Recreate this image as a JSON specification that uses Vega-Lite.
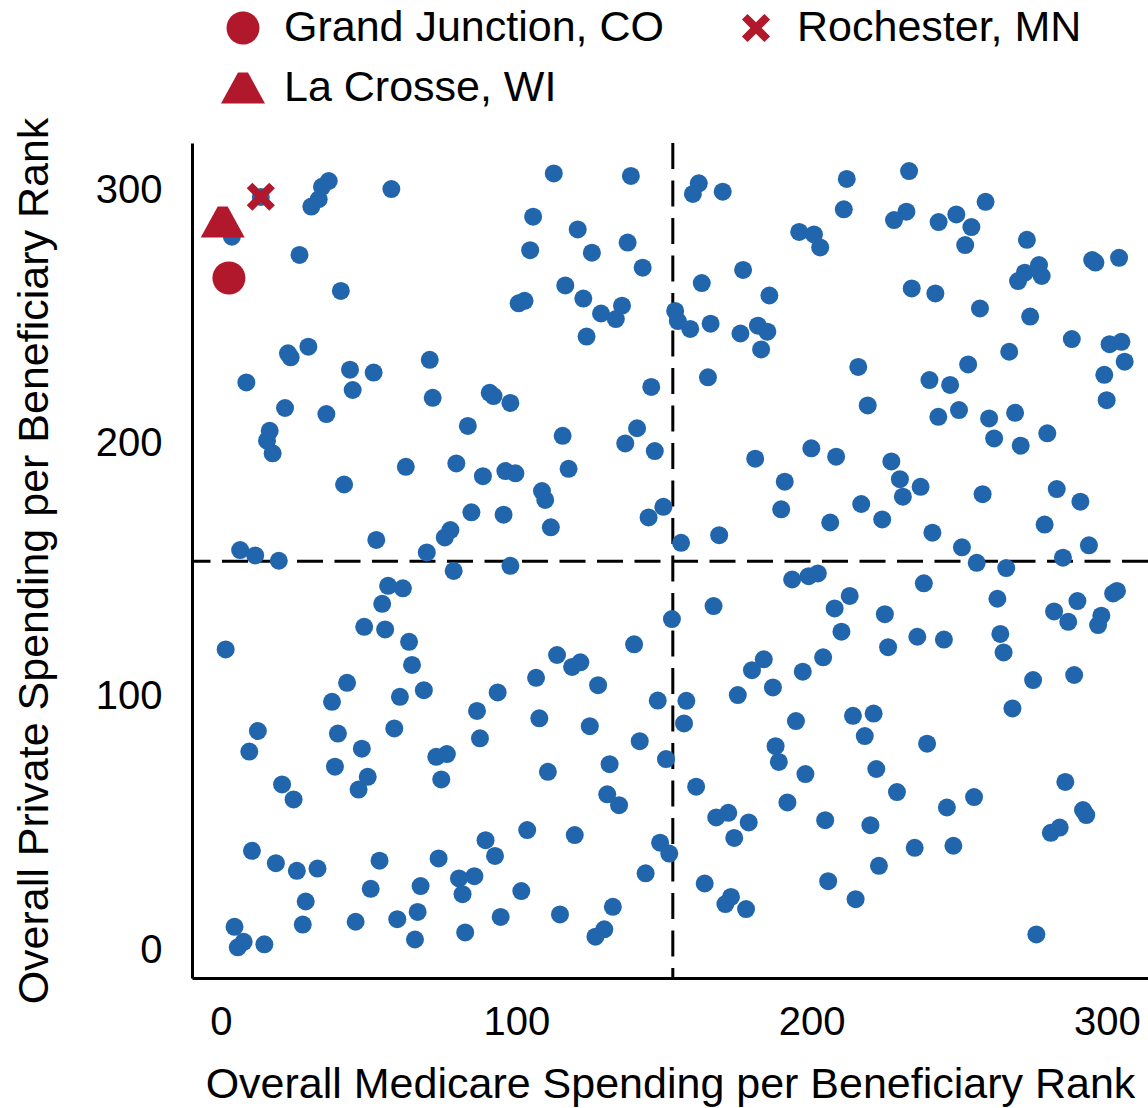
{
  "$schema": "https://vega.github.io/schema/vega-lite/v6.json",
  "width": 956,
  "height": 835,
  "autosize": {"type": "none"},
  "padding": {"left": 192, "top": 143, "right": 0, "bottom": 130},
  "background": "white",
  "config": {"view": {"stroke": null}, "font": "Liberation Sans"},
  "datasets": {
    "hrr": [
      {"medicare":3.7,"private":281.6},{"medicare":13.5,"private":297.3},{"medicare":36.5,"private":303.6},{"medicare":34.2,"private":301.3},{"medicare":33.1,"private":296.4},{"medicare":30.6,"private":293.5},{"medicare":57.7,"private":300.4},{"medicare":26.6,"private":274.4},{"medicare":40.6,"private":260.2},{"medicare":22.7,"private":235.6},{"medicare":23.6,"private":234},{"medicare":29.6,"private":238.2},{"medicare":8.6,"private":224.1},{"medicare":43.7,"private":229.1},{"medicare":51.7,"private":228},{"medicare":44.6,"private":221.1},{"medicare":70.7,"private":233},{"medicare":71.7,"private":218},{"medicare":21.7,"private":214},{"medicare":35.7,"private":211.6},{"medicare":91,"private":220},{"medicare":92.3,"private":218.7},{"medicare":98,"private":216},{"medicare":83.6,"private":206.9},
      {"medicare":112.7,"private":306.6},{"medicare":138.8,"private":305.6},{"medicare":161.8,"private":302.7},{"medicare":159.8,"private":298.5},{"medicare":169.9,"private":299.4},{"medicare":105.7,"private":289.5},{"medicare":120.8,"private":284.5},{"medicare":104.7,"private":276.3},{"medicare":137.7,"private":279.3},{"medicare":125.6,"private":275.3},{"medicare":142.8,"private":269.4},{"medicare":195.8,"private":283.5},{"medicare":200.8,"private":282.5},{"medicare":202.9,"private":277.4},{"medicare":176.8,"private":268.5},{"medicare":162.8,"private":263.3},{"medicare":185.7,"private":258.4},{"medicare":116.6,"private":262.4},{"medicare":122.7,"private":257.2},{"medicare":100.8,"private":255.3},{"medicare":102.8,"private":256.3},{"medicare":135.8,"private":254.4},{"medicare":128.7,"private":251.3},{"medicare":133.7,"private":249.1},{"medicare":153.8,"private":252.3},{"medicare":154.7,"private":248.3},{"medicare":158.9,"private":245.2},{"medicare":165.8,"private":247.3},{"medicare":175.9,"private":243.4},{"medicare":181.8,"private":246.5},{"medicare":185,"private":244.1},{"medicare":182.9,"private":237.1},{"medicare":123.8,"private":242.2},{"medicare":164.9,"private":226.1},{"medicare":145.7,"private":222.3},
      {"medicare":211.9,"private":304.4},{"medicare":233,"private":307.5},{"medicare":210.9,"private":292.4},{"medicare":232.1,"private":291.5},{"medicare":227.9,"private":288.2},{"medicare":243,"private":287.4},{"medicare":249,"private":290.4},{"medicare":258.9,"private":295.4},{"medicare":254.1,"private":285.4},{"medicare":252,"private":278.3},{"medicare":272.9,"private":280.4},{"medicare":295,"private":272.4},{"medicare":296.1,"private":271.4},{"medicare":304.1,"private":273.3},{"medicare":277,"private":270.4},{"medicare":272.2,"private":267.4},{"medicare":277.9,"private":266.1},{"medicare":269.9,"private":264.1},{"medicare":233.9,"private":261.2},{"medicare":241.9,"private":259.2},{"medicare":257,"private":253.3},{"medicare":274,"private":250.1},{"medicare":288.1,"private":241.2},{"medicare":300.9,"private":239.2},{"medicare":304.9,"private":240.1},{"medicare":306,"private":232.3},{"medicare":299.1,"private":227.1},{"medicare":299.9,"private":217.1},{"medicare":266.9,"private":236.2},{"medicare":215.8,"private":230.2},{"medicare":253,"private":231.2},{"medicare":239.9,"private":225},{"medicare":246.9,"private":223.1},{"medicare":219,"private":215},{"medicare":242.9,"private":210.5},{"medicare":249.9,"private":213.2},{"medicare":260.1,"private":209.9},{"medicare":268.9,"private":212.1},
      {"medicare":16.5,"private":205},{"medicare":15.6,"private":201.1},{"medicare":17.5,"private":196.1},{"medicare":62.6,"private":190.8},{"medicare":79.7,"private":192.1},{"medicare":88.7,"private":187.1},{"medicare":96.3,"private":189.1},{"medicare":41.7,"private":183.8},{"medicare":84.8,"private":172.8},{"medicare":95.7,"private":171.9},{"medicare":52.6,"private":161.9},{"medicare":77.7,"private":165.8},{"medicare":75.8,"private":162.9},{"medicare":69.7,"private":157},{"medicare":6.5,"private":157.9},{"medicare":11.6,"private":155.8},{"medicare":19.6,"private":153.7},{"medicare":78.8,"private":149.7},{"medicare":98,"private":151.7},{"medicare":56.6,"private":143.8},{"medicare":61.6,"private":142.8},{"medicare":54.6,"private":136.7},{"medicare":48.5,"private":127.6},{"medicare":55.6,"private":126.6},{"medicare":63.7,"private":121.7},{"medicare":1.6,"private":118.7},{"medicare":64.7,"private":112.6},{"medicare":42.7,"private":105.5},{"medicare":68.7,"private":102.6},{"medicare":93.7,"private":101.7},{"medicare":60.6,"private":100},{"medicare":37.6,"private":98},
      {"medicare":115.7,"private":203},{"medicare":140.9,"private":206},{"medicare":136.9,"private":200},{"medicare":146.9,"private":197},{"medicare":99.7,"private":188.2},{"medicare":117.7,"private":190},{"medicare":108.7,"private":181.2},{"medicare":109.8,"private":177.7},{"medicare":111.7,"private":166.9},{"medicare":149.8,"private":175},{"medicare":144.8,"private":170.8},{"medicare":155.8,"private":160.8},{"medicare":168.7,"private":163.8},{"medicare":180.9,"private":194},{"medicare":199.9,"private":198.1},{"medicare":208.3,"private":194.8},{"medicare":190.9,"private":184.9},{"medicare":189.7,"private":174},{"medicare":206.3,"private":168.8},{"medicare":193.4,"private":146.3},{"medicare":199,"private":147.6},{"medicare":202.1,"private":148.7},{"medicare":166.8,"private":135.8},{"medicare":207.8,"private":134.9},{"medicare":152.7,"private":130.7},{"medicare":139.9,"private":120.7},{"medicare":113.8,"private":116.5},{"medicare":118.9,"private":111.8},{"medicare":121.7,"private":113.6},{"medicare":106.7,"private":107.5},{"medicare":127.7,"private":104.6},{"medicare":147.9,"private":98.5},{"medicare":157.6,"private":98.4},{"medicare":175,"private":100.7},{"medicare":183.8,"private":114.8},{"medicare":179.8,"private":110.5},{"medicare":186.9,"private":103.7},{"medicare":197,"private":109.9},{"medicare":203.9,"private":115.6},
      {"medicare":261.8,"private":202},{"medicare":270.8,"private":199.1},{"medicare":279.8,"private":204},{"medicare":227,"private":192.9},{"medicare":229.9,"private":185.9},{"medicare":230.9,"private":179},{"medicare":236.9,"private":182.9},{"medicare":216.8,"private":176.1},{"medicare":223.9,"private":170},{"medicare":257.9,"private":180},{"medicare":283,"private":182},{"medicare":291,"private":177},{"medicare":278.9,"private":168},{"medicare":240.9,"private":164.8},{"medicare":250.9,"private":159},{"medicare":255.9,"private":152.9},{"medicare":265.9,"private":150.8},{"medicare":285.1,"private":154.9},{"medicare":293.9,"private":159.8},{"medicare":238,"private":144.8},{"medicare":212.9,"private":139.8},{"medicare":224.8,"private":132.6},{"medicare":210.1,"private":125.7},{"medicare":262.9,"private":138.7},{"medicare":263.9,"private":124.8},{"medicare":265,"private":117.5},{"medicare":235.8,"private":123.7},{"medicare":244.8,"private":122.6},{"medicare":225.9,"private":119.6},{"medicare":282.1,"private":133.7},{"medicare":286.9,"private":129.6},{"medicare":290,"private":137.8},{"medicare":297,"private":128.3},{"medicare":298.1,"private":132},{"medicare":302.1,"private":140.8},{"medicare":303.4,"private":141.8},{"medicare":275,"private":106.6},{"medicare":288.9,"private":108.6},
      {"medicare":86.7,"private":94.4},{"medicare":12.5,"private":86.5},{"medicare":9.6,"private":78.4},{"medicare":39.6,"private":85.5},{"medicare":58.7,"private":87.5},{"medicare":47.7,"private":79.5},{"medicare":38.6,"private":72.4},{"medicare":49.7,"private":68.4},{"medicare":46.6,"private":63.4},{"medicare":72.9,"private":76.3},{"medicare":76.5,"private":77.4},{"medicare":74.6,"private":67.4},{"medicare":87.7,"private":83.6},{"medicare":20.7,"private":65.4},{"medicare":24.6,"private":59.5},{"medicare":10.5,"private":39.2},{"medicare":18.6,"private":34.3},{"medicare":25.7,"private":31.3},{"medicare":32.7,"private":32.2},{"medicare":28.7,"private":19.2},{"medicare":27.7,"private":10.1},{"medicare":4.6,"private":9.2},{"medicare":7.7,"private":3.3},{"medicare":5.7,"private":1.1},{"medicare":14.7,"private":2.3},{"medicare":53.7,"private":35.3},{"medicare":50.7,"private":24.2},{"medicare":45.6,"private":11.2},{"medicare":67.6,"private":25.3},{"medicare":66.6,"private":15.1},{"medicare":59.7,"private":12.2},{"medicare":65.7,"private":4.2},{"medicare":73.7,"private":36.2},{"medicare":89.6,"private":43.4},{"medicare":92.8,"private":37.2},{"medicare":80.6,"private":28.3},{"medicare":85.8,"private":29.2},{"medicare":81.8,"private":22.1},{"medicare":94.7,"private":13.1},{"medicare":82.7,"private":7},
      {"medicare":107.8,"private":91.5},{"medicare":124.9,"private":88.4},{"medicare":141.8,"private":82.5},{"medicare":156.8,"private":89.5},{"medicare":194.7,"private":90.4},{"medicare":110.7,"private":70.4},{"medicare":131.6,"private":73.4},{"medicare":150.7,"private":75.4},{"medicare":187.8,"private":80.5},{"medicare":188.9,"private":74.3},{"medicare":197.9,"private":69.5},{"medicare":130.8,"private":61.5},{"medicare":134.8,"private":57.2},{"medicare":160.9,"private":64.5},{"medicare":191.8,"private":58.3},{"medicare":167.7,"private":52.4},{"medicare":171.8,"private":54.2},{"medicare":178.7,"private":50.4},{"medicare":173.8,"private":44.3},{"medicare":204.6,"private":51.3},{"medicare":103.7,"private":47.4},{"medicare":119.8,"private":45.4},{"medicare":148.7,"private":42.4},{"medicare":151.8,"private":38.1},{"medicare":143.8,"private":30.3},{"medicare":163.8,"private":26.3},{"medicare":172.7,"private":21},{"medicare":170.8,"private":18.2},{"medicare":177.8,"private":16.2},{"medicare":205.6,"private":27.2},{"medicare":101.7,"private":23.3},{"medicare":114.8,"private":14.1},{"medicare":132.7,"private":17.1},{"medicare":129.8,"private":8.2},{"medicare":126.8,"private":5.3},
      {"medicare":268,"private":95.4},{"medicare":214,"private":92.5},{"medicare":221,"private":93.4},{"medicare":218,"private":84.5},{"medicare":239.1,"private":81.5},{"medicare":221.9,"private":71.5},{"medicare":228.9,"private":62.4},{"medicare":245.8,"private":56.3},{"medicare":255,"private":60.4},{"medicare":219.9,"private":49.3},{"medicare":234.9,"private":40.4},{"medicare":248,"private":41.2},{"medicare":222.8,"private":33.3},{"medicare":214.9,"private":20.1},{"medicare":285.9,"private":66.4},{"medicare":291.9,"private":55.3},{"medicare":293,"private":53.3},{"medicare":284,"private":48.4},{"medicare":281,"private":46.3},{"medicare":276.1,"private":6.2}
    ],
    "highlight": [
      {"hrr": "Grand Junction, CO", "medicare": 2.7, "private": 265.3},
      {"hrr": "Rochester, MN", "medicare": 13.5, "private": 297.4},
      {"hrr": "La Crosse, WI", "medicare": 0.6, "private": 287.4}
    ]
  },
  "layer": [
    {
      "data": {"values": [{}]},
      "mark": {"type": "rule", "color": "black", "strokeWidth": 3, "strokeDash": [26, 11.5]},
      "encoding": {
        "x": {"datum": 153, "type": "quantitative", "title": "Overall Medicare Spending per Beneficiary Rank", "scale": {"domain": [-9.8, 313.9], "nice": false, "zero": false}}
      }
    },
    {
      "data": {"values": [{}]},
      "mark": {"type": "rule", "color": "black", "strokeWidth": 3, "strokeDash": [26, 11.5]},
      "encoding": {
        "y": {"datum": 153.5, "type": "quantitative", "title": "Overall Private Spending per Beneficiary Rank", "scale": {"domain": [-11, 318.6], "nice": false, "zero": false}}
      }
    },
    {
      "data": {"name": "hrr"},
      "mark": {"type": "circle", "size": 324, "color": "#2166ac", "opacity": 1},
      "encoding": {
        "x": {
          "field": "medicare", "type": "quantitative",
          "title": "Overall Medicare Spending per Beneficiary Rank",
          "scale": {"domain": [-9.8, 313.9], "nice": false, "zero": false},
          "axis": {"values": [0, 100, 200, 300], "domainColor": "black", "domainWidth": 3, "ticks": false, "tickSize": 0, "grid": false, "labelFlush": false, "labelFontSize": 40, "labelColor": "black", "labelPadding": 24, "titleFontSize": 43, "titleFontWeight": "normal", "titleColor": "black", "titleY": 119, "titleBaseline": "alphabetic"}
        },
        "y": {
          "field": "private", "type": "quantitative",
          "title": "Overall Private Spending per Beneficiary Rank",
          "scale": {"domain": [-11, 318.6], "nice": false, "zero": false},
          "axis": {"values": [0, 100, 200, 300], "domainColor": "black", "domainWidth": 3, "ticks": false, "tickSize": 0, "grid": false, "labelFlush": false, "labelFontSize": 40, "labelColor": "black", "labelPadding": 30, "titleFontSize": 43, "titleFontWeight": "normal", "titleColor": "black", "titleX": -145, "titleAngle": 270, "titleBaseline": "alphabetic"}
        }
      }
    },
    {
      "data": {"name": "highlight"},
      "mark": {"type": "point", "filled": true, "size": 1936, "color": "#b2182b", "opacity": 1, "strokeWidth": 0},
      "encoding": {
        "x": {"field": "medicare", "type": "quantitative", "title": "Overall Medicare Spending per Beneficiary Rank", "scale": {"domain": [-9.8, 313.9], "nice": false, "zero": false}},
        "y": {"field": "private", "type": "quantitative", "title": "Overall Private Spending per Beneficiary Rank", "scale": {"domain": [-11, 318.6], "nice": false, "zero": false}},
        "shape": {
          "field": "hrr", "type": "nominal",
          "scale": {
            "domain": ["Grand Junction, CO", "La Crosse, WI", "Rochester, MN"],
            "range": [
              "M0.75,0C0.75,0.414,0.414,0.75,0,0.75C-0.414,0.75,-0.75,0.414,-0.75,0C-0.75,-0.414,-0.414,-0.75,0,-0.75C0.414,-0.75,0.75,-0.414,0.75,0Z",
              "M-1,0.705L1,0.705L0.227,-0.705L-0.227,-0.705Z",
              "M-0.64,-0.384L-0.384,-0.64L0,-0.256L0.384,-0.64L0.64,-0.384L0.256,0L0.64,0.384L0.384,0.64L0,0.256L-0.384,0.64L-0.64,0.384L-0.256,0Z"
            ]
          },
          "legend": {"title": null, "orient": "none", "legendX": 29, "legendY": -137, "columns": 2, "columnPadding": 69, "rowPadding": 16, "padding": 0, "symbolSize": 1936, "symbolFillColor": "#b2182b", "symbolStrokeColor": "#b2182b", "symbolStrokeWidth": 0, "symbolOpacity": 1, "labelFontSize": 43, "labelColor": "black", "labelOffset": 19, "labelLimit": 0}
        }
      }
    }
  ]
}
